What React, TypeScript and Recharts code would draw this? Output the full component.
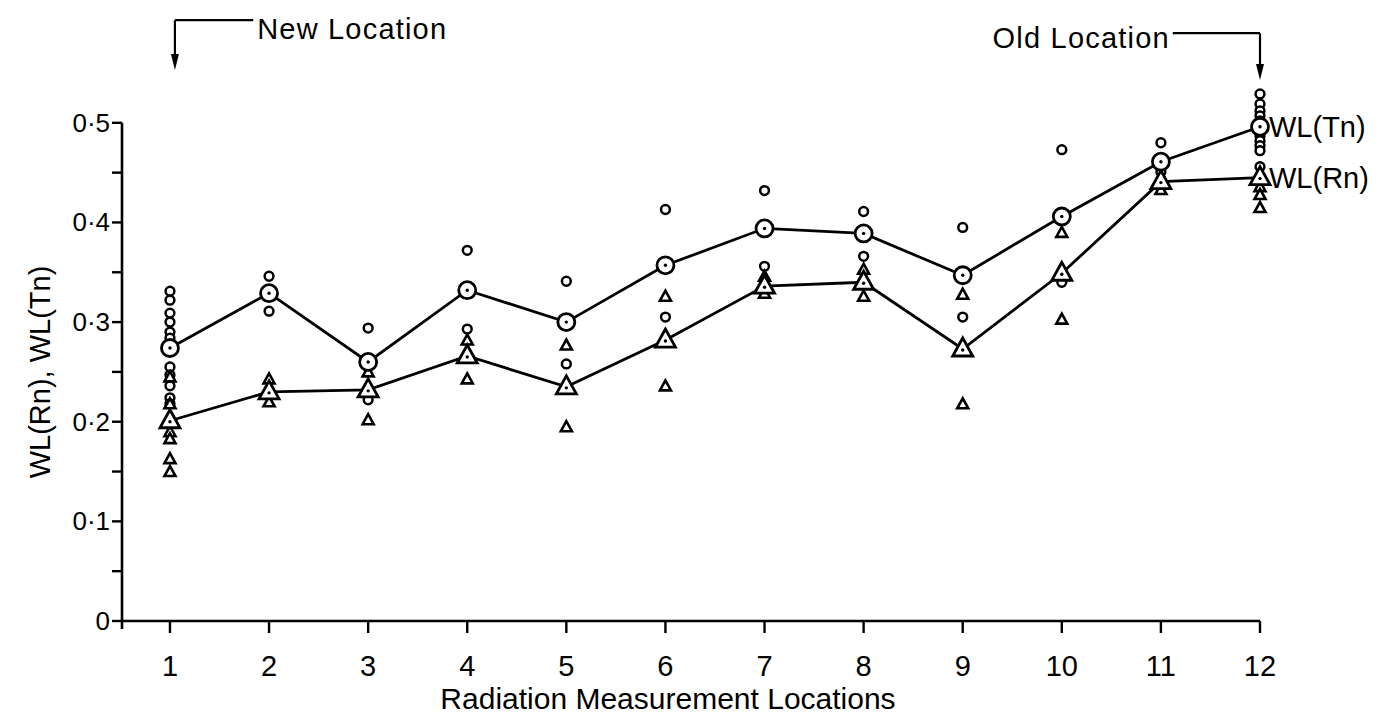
import { ComposedChart, Scatter, XAxis, YAxis, ReferenceLine, ReferenceDot } from 'recharts'

const locations = [1, 2, 3, 4, 5, 6, 7, 8, 9, 10, 11, 12]
const tnMean = [0.274, 0.329, 0.26, 0.332, 0.3, 0.357, 0.394, 0.389, 0.347, 0.406, 0.461, 0.496]
const rnMean = [0.201, 0.23, 0.232, 0.266, 0.235, 0.282, 0.336, 0.34, 0.273, 0.349, 0.441, 0.445]

// individual measurements at each location
const tnSpread = [
  [0.331, 0.322, 0.309, 0.3, 0.29, 0.284, 0.255, 0.247, 0.236, 0.224, 0.218],
  [0.346, 0.311],
  [0.294, 0.222],
  [0.372, 0.293],
  [0.341, 0.258],
  [0.413, 0.305],
  [0.432, 0.356],
  [0.411, 0.366],
  [0.395, 0.305],
  [0.473, 0.34],
  [0.48, 0.451],
  [0.529, 0.519, 0.512, 0.507, 0.502, 0.487, 0.482, 0.477, 0.472, 0.456],
]
const rnSpread = [
  [0.245, 0.218, 0.19, 0.183, 0.163, 0.15],
  [0.243, 0.22],
  [0.25, 0.202],
  [0.282, 0.243],
  [0.277, 0.195],
  [0.326, 0.236],
  [0.346, 0.329],
  [0.353, 0.326],
  [0.328, 0.218],
  [0.39, 0.303],
  [0.433],
  [0.436, 0.428, 0.415],
]

const yTicks = [0, 0.05, 0.1, 0.15, 0.2, 0.25, 0.3, 0.35, 0.4, 0.45, 0.5]
const yTickLabels = ['0', '', '0·1', '', '0·2', '', '0·3', '', '0·4', '', '0·5']

const FONT = '"Liberation Sans", Arial, sans-serif'
const X_MIN = 0.516

const tnMeanData = locations.map((x, i) => ({ x, y: tnMean[i] }))
const rnMeanData = locations.map((x, i) => ({ x, y: rnMean[i] }))
const tnPoints = tnSpread.flatMap((vals, i) => vals.map((y) => ({ x: locations[i], y })))
const rnPoints = rnSpread.flatMap((vals, i) => vals.map((y) => ({ x: locations[i], y })))

const SmallCircle = ({ cx, cy }: any) => (
  <circle cx={cx} cy={cy} r={4.4} fill="#fff" stroke="#000" strokeWidth={2.5} />
)
const SmallTri = ({ cx, cy }: any) => (
  <polygon
    points={`${cx},${cy - 5.5} ${cx - 5.5},${cy + 4.5} ${cx + 5.5},${cy + 4.5}`}
    fill="#fff"
    stroke="#000"
    strokeWidth={2.6}
  />
)
const MeanCircle = ({ cx, cy }: any) => (
  <g>
    <circle cx={cx} cy={cy} r={8.5} fill="#fff" stroke="#000" strokeWidth={2.8} />
    <circle cx={cx} cy={cy} r={1.7} fill="#000" />
  </g>
)
const MeanTri = ({ cx, cy }: any) => (
  <g>
    <polygon
      points={`${cx},${cy - 11} ${cx - 10},${cy + 7} ${cx + 10},${cy + 7}`}
      fill="#fff"
      stroke="#000"
      strokeWidth={2.8}
    />
    <circle cx={cx} cy={cy + 1} r={1.7} fill="#000" />
  </g>
)
const ArrowDown = ({ cx, cy }: any) => (
  <polygon points={`${cx},${cy} ${cx - 4},${cy - 16} ${cx + 4},${cy - 16}`} fill="#000" />
)
const textAt = (text: string, anchor: 'start' | 'end', dx: number, spacing = 0) => ({ cx, cy }: any) => (
  <text
    x={cx + dx}
    y={cy}
    textAnchor={anchor}
    dominantBaseline="central"
    fontFamily={FONT}
    fontSize={29}
    letterSpacing={spacing}
    fill="#000"
  >
    {text}
  </text>
)

const YTick = ({ x, y, payload }: any) => {
  const idx = yTicks.indexOf(payload.value)
  return (
    <text x={x} y={y} textAnchor="end" dominantBaseline="central" fontFamily={FONT} fontSize={26} fill="#000">
      {yTickLabels[idx]}
    </text>
  )
}
const XTick = ({ x, y, payload }: any) => (
  <text x={x} y={y} textAnchor="middle" dominantBaseline="central" fontFamily={FONT} fontSize={29} fill="#000">
    {payload.value}
  </text>
)

export default function App() {
  return (
    <div style={{ position: 'absolute', left: 0, top: 0, width: 1386, height: 724, background: '#fff' }}>
      <ComposedChart width={1386} height={724} margin={{ top: 73, right: 126, bottom: 0, left: 0 }}>
        <XAxis
          type="number"
          dataKey="x"
          domain={[X_MIN, 12]}
          ticks={locations}
          tick={<XTick />}
          tickSize={12}
          tickMargin={33}
          height={103}
          axisLine={{ stroke: '#000', strokeWidth: 2.6 }}
          tickLine={{ stroke: '#000', strokeWidth: 2.4 }}
          label={{
            content: ({ viewBox }: any) => (
              <text
                x={viewBox.x + viewBox.width / 2 - 23}
                y={709}
                textAnchor="middle"
                fontFamily={FONT}
                fontSize={30}
                fill="#000"
              >
                Radiation Measurement Locations
              </text>
            ),
          }}
        />
        <YAxis
          type="number"
          dataKey="y"
          domain={[0, 0.55]}
          ticks={yTicks}
          interval={0}
          tick={<YTick />}
          tickSize={10}
          tickMargin={2}
          width={122}
          axisLine={false}
          tickLine={{ stroke: '#000', strokeWidth: 2.4 }}
          label={{
            content: ({ viewBox }: any) => {
              const cy = viewBox.y + 50 + (viewBox.height - 50) / 2
              return (
                <text
                  x={40}
                  y={cy}
                  transform={`rotate(-90, 40, ${cy})`}
                  textAnchor="middle"
                  dominantBaseline="central"
                  fontFamily={FONT}
                  fontSize={29}
                  fill="#000"
                >
                  WL(Rn), WL(Tn)
                </text>
              )
            },
          }}
        />

        {/* y axis spine stops at 0.5 */}
        <ReferenceLine
          segment={[{ x: X_MIN, y: -0.008 }, { x: X_MIN, y: 0.5 }]}
          ifOverflow="visible"
          stroke="#000"
          strokeWidth={2.6}
        />

        <Scatter data={tnPoints} shape={<SmallCircle />} isAnimationActive={false} />
        <Scatter data={rnPoints} shape={<SmallTri />} isAnimationActive={false} />
        <Scatter
          data={rnMeanData}
          shape={<MeanTri />}
          line={{ stroke: '#000', strokeWidth: 2.8 }}
          isAnimationActive={false}
        />
        <Scatter
          data={tnMeanData}
          shape={<MeanCircle />}
          line={{ stroke: '#000', strokeWidth: 2.8 }}
          isAnimationActive={false}
        />

        {/* series labels */}
        <ReferenceDot x={12} y={tnMean[11]} ifOverflow="visible" shape={textAt('WL(Tn)', 'start', 9)} />
        <ReferenceDot x={12} y={rnMean[11]} ifOverflow="visible" shape={textAt('WL(Rn)', 'start', 9)} />

        {/* New Location bracket */}
        <ReferenceLine
          segment={[{ x: 1.05, y: 0.603 }, { x: 1.05, y: 0.56 }]}
          ifOverflow="visible"
          stroke="#000"
          strokeWidth={2.2}
        />
        <ReferenceLine
          segment={[{ x: 1.05, y: 0.603 }, { x: 1.84, y: 0.603 }]}
          ifOverflow="visible"
          stroke="#000"
          strokeWidth={2.2}
        />
        <ReferenceDot x={1.05} y={0.553} ifOverflow="visible" shape={<ArrowDown />} />
        <ReferenceDot x={1.88} y={0.594} ifOverflow="visible" shape={textAt('New Location', 'start', 0, 1.2)} />

        {/* Old Location bracket */}
        <ReferenceLine
          segment={[{ x: 11.12, y: 0.59 }, { x: 12, y: 0.59 }]}
          ifOverflow="visible"
          stroke="#000"
          strokeWidth={2.2}
        />
        <ReferenceLine
          segment={[{ x: 12, y: 0.59 }, { x: 12, y: 0.55 }]}
          ifOverflow="visible"
          stroke="#000"
          strokeWidth={2.2}
        />
        <ReferenceDot x={12} y={0.543} ifOverflow="visible" shape={<ArrowDown />} />
        <ReferenceDot x={11.09} y={0.585} ifOverflow="visible" shape={textAt('Old Location', 'end', 0, 1.2)} />
      </ComposedChart>
    </div>
  )
}
